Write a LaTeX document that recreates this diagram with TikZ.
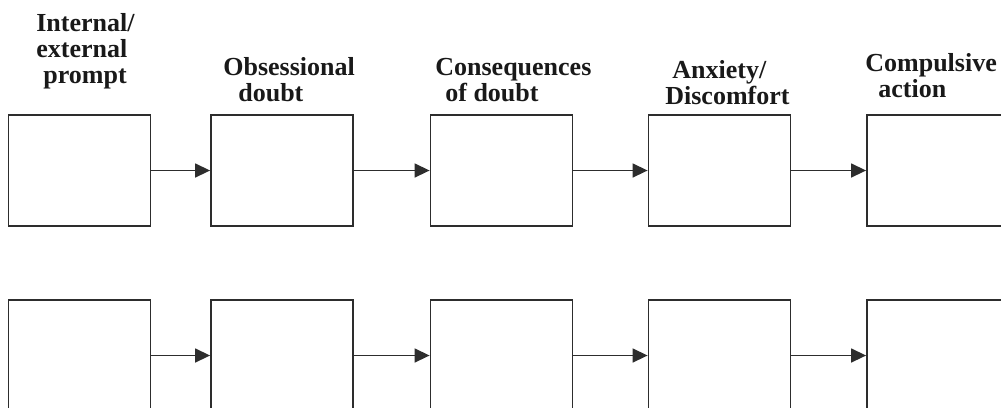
\documentclass[tikz,border=0pt]{standalone}
\usepackage{fontspec}
\setmainfont{Liberation Serif}
\usepackage{tikz}
\usetikzlibrary{arrows.meta}
\definecolor{lineclr}{RGB}{45,45,45}
\definecolor{textclr}{RGB}{25,25,25}

\begin{document}
\begin{tikzpicture}[
    x=0.02cm, y=-0.02cm,
    stagebox/.style={rectangle, draw=lineclr, line width=1.05pt, minimum width=2.84cm, minimum height=2.22cm, inner sep=0pt},
    arrow/.style={-{Triangle[length=0.3cm, width=0.28cm]}, draw=lineclr, fill=lineclr, line width=0.85pt},
    heading/.style={anchor=base west, align=left, inner sep=0pt, text=textclr, font=\fontsize{14.8pt}{14.8pt}\selectfont\bfseries}
]
    \useasboundingbox (0,0) rectangle (1001,407);
    \clip (0,0) rectangle (1001,407);

    % Headings (anchored at the baseline of their last line)
    \node[heading] (h_prompt) at (36,83) {Internal/\\external\\\hspace*{0.14cm}prompt};
    \node[heading] (h_doubt) at (223,101) {Obsessional\\\hspace*{0.3cm}doubt};
    \node[heading] (h_conseq) at (435,101) {Consequences\\\hspace*{0.2cm}of doubt};
    \node[heading] (h_anxiety) at (665,104) {\hspace*{0.14cm}Anxiety/\\Discomfort};
    \node[heading] (h_action) at (865,97) {Compulsive\\\hspace*{0.26cm}action};

    % First row
    \node[stagebox] (prompt) at (79.5,170.5) {};
    \node[stagebox] (doubt) at (282,170.5) {};
    \node[stagebox] (conseq) at (501.5,170.5) {};
    \node[stagebox] (anxiety) at (719.5,170.5) {};
    \node[stagebox] (action) at (938,170.5) {};

    % Second row
    \node[stagebox] (prompt2) at (79.5,355.5) {};
    \node[stagebox] (doubt2) at (282,355.5) {};
    \node[stagebox] (conseq2) at (501.5,355.5) {};
    \node[stagebox] (anxiety2) at (719.5,355.5) {};
    \node[stagebox] (action2) at (938,355.5) {};

    % Arrows
    \draw[arrow] (prompt) -- (doubt);
    \draw[arrow] (doubt) -- (conseq);
    \draw[arrow] (conseq) -- (anxiety);
    \draw[arrow] (anxiety) -- (action);
    \draw[arrow] (prompt2) -- (doubt2);
    \draw[arrow] (doubt2) -- (conseq2);
    \draw[arrow] (conseq2) -- (anxiety2);
    \draw[arrow] (anxiety2) -- (action2);
\end{tikzpicture}
\end{document}
